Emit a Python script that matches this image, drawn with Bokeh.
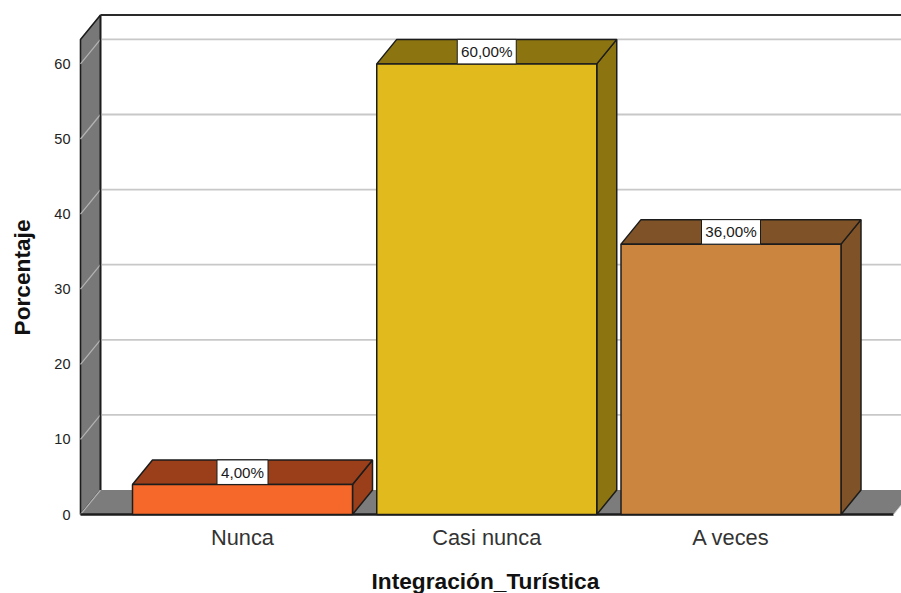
from bokeh.plotting import figure
from bokeh.models import FixedTicker, Range1d, Title
from bokeh.core.properties import value
from bokeh.embed import file_html
from bokeh.resources import INLINE

categories = ["Nunca", "Casi nunca", "A veces"]
percent = [4.0, 60.0, 36.0]
labels = ["4,00%", "60,00%", "36,00%"]
y_ticks = [0, 10, 20, 30, 40, 50, 60]
front_colors = ["#f5682a", "#e1bb1e", "#cb853f"]
top_colors = ["#9a3f1a", "#8c7510", "#7f5227"]
x_title = "Integración_Turística"
y_title = "Porcentaje"

FONT = "Liberation Sans"
PX_PER_X = 244.25
PX_PER_Y = 7.51
DX = 20 / PX_PER_X          # depth of the 3D effect, in data units
DY = 24.5 / PX_PER_Y
BAR_W = 220 / PX_PER_X
X0 = -(242 - 80) / PX_PER_X  # front-left corner of the wall
X_END = (893 - 242) / PX_PER_X
WALL_TOP = 63.26
EDGE = "#1c1c1c"
FRAME_LEFT, FRAME_BOTTOM = 78, 517

p = figure(width=901, height=593, frame_width=823, frame_height=504,
           output_backend="svg", toolbar_location=None,
           x_range=Range1d(-(242 - FRAME_LEFT) / PX_PER_X, (901 - 242) / PX_PER_X),
           y_range=Range1d(-(FRAME_BOTTOM - 514) / PX_PER_Y, (514 - 13) / PX_PER_Y),
           min_border_left=FRAME_LEFT, min_border_right=0, min_border_top=13, min_border_bottom=76,
           background_fill_color="white", border_fill_color="white", outline_line_color=None)
p.grid.visible = False

# walls and floor
p.patch([X0, X0 + DX, X0 + DX, X0], [0, DY, WALL_TOP + DY, WALL_TOP],
        fill_color="#787878", line_color=EDGE, line_width=1.6)
p.patch([X0, X0 + DX, X_END + DX, X_END], [0, DY, DY, 0],
        fill_color="#7c7c7c", line_color=None)

# gridlines on the back wall and the side wall
for t in y_ticks:
    if t > 0:
        p.line([X0 + DX, X_END + 2 * DX], [t + DY, t + DY], line_color="#c8c8c8", line_width=1.8)
    p.line([X0, X0 + DX], [t, t + DY], line_color="#b4b4b4", line_width=1.2)

p.line([X0 + DX, X0 + DX], [DY, WALL_TOP + DY], line_color=EDGE, line_width=1.6)
p.line([X0 + DX, X_END + 2 * DX], [WALL_TOP + DY, WALL_TOP + DY], line_color="#2a2a2a", line_width=2)
p.line([X0, X_END], [0, 0], line_color=EDGE, line_width=2.4)
p.line([X_END, X_END + DX], [0, DY], line_color="#d0d0d0", line_width=1)

# bars
for i, v in enumerate(percent):
    l, r = i - BAR_W / 2, i + BAR_W / 2
    p.patch([r, r + DX, r + DX, r], [0, DY, v + DY, v], fill_color=top_colors[i], line_color=EDGE, line_width=1.5)
    p.patch([l, l + DX, r + DX, r], [v, v + DY, v + DY, v], fill_color=top_colors[i], line_color=EDGE, line_width=1.5)
    p.patch([l, r, r, l], [0, 0, v, v], fill_color=front_colors[i], line_color=EDGE, line_width=1.5)

# value labels
xs = list(range(len(percent)))
ys = [v + DY / 2 for v in percent]
widths = [(8 * len(s) + 11) / PX_PER_X for s in labels]
p.rect(xs, ys, width=widths, height=DY, fill_color="white", line_color=EDGE, line_width=1)
p.text(xs, ys, text=labels, text_align="center", text_baseline="middle",
       text_font=value(FONT), text_font_size="15.2px", text_color="#1a1a1a")

# axes
p.yaxis.ticker = FixedTicker(ticks=y_ticks)
p.yaxis.axis_line_color = None
p.yaxis.major_tick_line_color = None
p.yaxis.minor_tick_line_color = None
p.yaxis.major_label_text_font = FONT
p.yaxis.major_label_text_font_size = "14.5px"
p.yaxis.major_label_text_color = "#222222"
p.yaxis.major_label_standoff = 2
p.yaxis.axis_label = " "              # blank: only widens the axis panel so the side title sits further out
p.yaxis.axis_label_text_font_size = "1px"
p.yaxis.axis_label_standoff = 7

p.xaxis.ticker = FixedTicker(ticks=xs)
p.xaxis.major_label_overrides = {i: c for i, c in enumerate(categories)}
p.xaxis.axis_line_color = None
p.xaxis.major_tick_line_color = None
p.xaxis.minor_tick_line_color = None
p.xaxis.major_label_text_font = FONT
p.xaxis.major_label_text_font_size = "21.8px"
p.xaxis.major_label_text_color = "#333333"
p.xaxis.major_label_standoff = 1

# axis titles as side titles: the reference does not centre them on the frame
p.add_layout(Title(text=x_title, align="left", offset=371 - FRAME_LEFT, standoff=26, text_font=FONT,
                   text_font_style="bold", text_font_size="22.7px", text_color="#111111"), "below")
p.add_layout(Title(text=y_title, align="left", offset=FRAME_BOTTOM - 335, standoff=12, text_font=FONT,
                   text_font_style="bold", text_font_size="22.7px", text_color="#111111"), "left")

open("out.html", "w").write(file_html(p, INLINE))
